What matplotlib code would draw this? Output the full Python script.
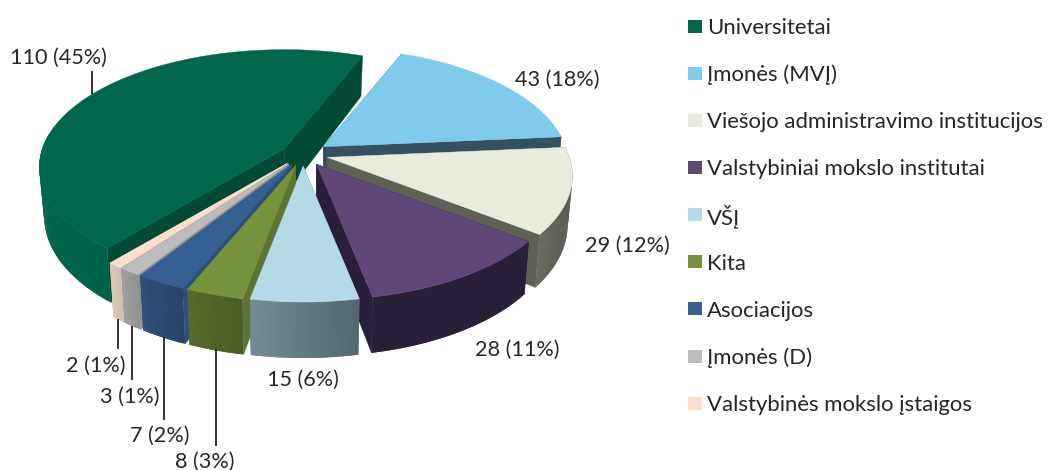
#!/usr/bin/env python3
"""Exploded 3D-look pie chart with a category list on the right."""

import numpy as np
import matplotlib
matplotlib.use("Agg")
import matplotlib.pyplot as plt
from matplotlib.collections import PolyCollection
from matplotlib.colors import to_rgb

# --- Data ---------------------------------------------------------------
categories = ["Universitetai", "Įmonės (MVĮ)", "Viešojo administravimo institucijos",
              "Valstybiniai mokslo institutai", "VŠĮ", "Kita", "Asociacijos",
              "Įmonės (D)", "Valstybinės mokslo įstaigos"]
values = [110, 43, 29, 28, 15, 8, 7, 3, 2]
percents = [45, 18, 12, 11, 6, 3, 2, 1, 1]  # as printed in the chart

# --- Style --------------------------------------------------------------
TOP_COLORS = ["#00664C", "#7FCBEC", "#E7ECDD", "#5F4879", "#B3DAE6",
              "#76923A", "#366092", "#BCBCBC", "#FBDFCB"]
CUT_COLORS = ["#004A36", "#35505F", "#5F6056", "#2A1F38", "#54686E",
              "#5C7530", "#2B5080", "#8E8E8E", "#D6C3B4"]
RIM_COLORS = [("#00664C", "#004F3A"), ("#35505F", "#35505F"), ("#6A6B60", "#5A5B51"),
              ("#2A1F38", "#2A1F38"), ("#738C92", "#54686E"), ("#566A2A", "#4B5D25"),
              ("#2F5078", "#284468"), ("#A0A0A0", "#929292"), ("#DCC9BA", "#D2BFB0")]

# back to front
DRAW_ORDER = [1, 2, 3, 0, 8, 7, 6, 5, 4]

# label centres and leader lines (x, y_top, y_bottom), pixels
LABEL_POS = [(58, 58), (557, 80), (627, 246), (517, 350), (303, 380),
             (205, 462), (160, 436), (130, 397), (96, 366)]
LEADERS = [(92, 71, 94), (216, 349, 446), (164, 337, 420), (132, 326, 380), (118, 319, 349)]

# --- Pie geometry (pixels) ----------------------------------------------
CX, CY = 303, 154
RX, RY = 242.0, 114.6
PERSP = 0.157
EXPLODE = [0.09, 0.105, 0.105, 0.105, 0.105, 0.105, 0.105, 0.105, 0.105]
START_DEG = 220.1
TEXT_COLOR = "#262626"

plt.rcParams["font.family"] = ["Lato", "DejaVu Sans"]


def rim_point(theta):
    """Offset of a rim point from the slice apex; theta clockwise from top."""
    u, v = np.sin(theta), np.cos(theta)
    w = 1 + PERSP * v
    return RX * u / w, RY * v / w, v


def depth(v):
    # wall gets taller towards the viewer
    return 48 - 8 * v


def draw_slice(ax, i, a0, a1):
    mid = (a0 + a1) / 2
    ax0 = CX + RX * EXPLODE[i] * np.sin(mid)
    ay0 = CY - RY * EXPLODE[i] * np.cos(mid)

    theta = np.linspace(a0, a1, max(int(np.degrees(a1 - a0) * 1.5), 6))
    dx, dy, v = rim_point(theta)
    top_x, top_y = ax0 + dx, ay0 - dy
    bot_x, bot_y = ax0 + 0.98 * dx, ay0 - dy + depth(v)
    apex_bot = ay0 + depth(0)

    # the two cut faces
    for k in (0, -1):
        ax.fill([ax0, top_x[k], bot_x[k], ax0], [ay0, top_y[k], bot_y[k], apex_bot],
                color=CUT_COLORS[i], lw=0.3)

    # outer wall, shaded from left to right; quads overlap so no seams show.
    # the far side of the rim faces away from the viewer, so skip it
    c0, c1 = np.array(to_rgb(RIM_COLORS[i][0])), np.array(to_rgb(RIM_COLORS[i][1]))
    span = max(top_x.max() - top_x.min(), 1)
    polys, cols = [], []
    for k in range(len(theta) - 1):
        if v[k] > 0.12:
            continue
        n = min(k + 3, len(theta))
        xs = np.r_[top_x[k:n], bot_x[k:n][::-1]]
        ys = np.r_[top_y[k:n], bot_y[k:n][::-1]]
        polys.append(np.column_stack([xs, ys]))
        t = (0.5 * (top_x[k] + top_x[k + 1]) - top_x.min()) / span
        cols.append(c0 + (c1 - c0) * t)
    if polys:
        ax.add_collection(PolyCollection(polys, facecolors=cols, edgecolors="none"))

    # top face
    ax.fill(np.r_[ax0, top_x], np.r_[ay0, top_y], color=TOP_COLORS[i], lw=0.3)


def main():
    fig = plt.figure(figsize=(10.48, 4.70), dpi=100)
    ax = fig.add_axes([0, 0, 1, 1])
    ax.set_xlim(0, 1048)
    ax.set_ylim(470, 0)
    ax.axis("off")

    edges = np.radians(START_DEG) + np.r_[0, np.cumsum(values)] / sum(values) * 2 * np.pi
    for i in DRAW_ORDER:
        draw_slice(ax, i, edges[i], edges[i + 1])

    # value labels + leaders
    for val, pct, (lx, ly) in zip(values, percents, LABEL_POS):
        ax.text(lx, ly, f"{val} ({pct}%)", ha="center", va="center",
                fontsize=15.6, color=TEXT_COLOR)
    for x, y0, y1 in LEADERS:
        ax.plot([x, x], [y0, y1], color="#111111", lw=1.2, solid_capstyle="butt")

    # category list
    for i, name in enumerate(categories):
        y = 26 + i * 47.15
        ax.add_patch(plt.Rectangle((688, y - 6.5), 14, 13, facecolor=TOP_COLORS[i], edgecolor="none"))
        ax.text(707, y, name, ha="left", va="center_baseline", fontsize=15.9, color=TEXT_COLOR)

    fig.savefig("out.png", dpi=100)


if __name__ == "__main__":
    main()
